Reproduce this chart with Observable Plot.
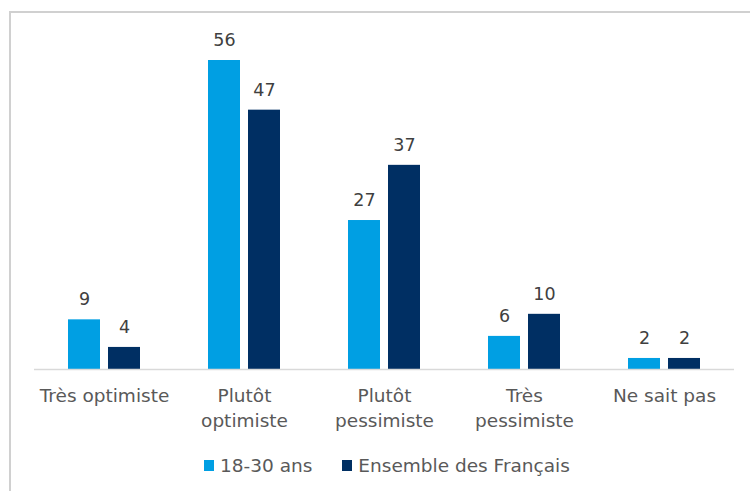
<!DOCTYPE html>
<html>
<head>
<meta charset="utf-8">
<script src="https://cdn.jsdelivr.net/npm/d3@7"></script>
<script src="https://cdn.jsdelivr.net/npm/@observablehq/plot@0.6"></script>
<style>
  html, body { margin: 0; padding: 0; background: #fff; }
  body { width: 750px; height: 491px; position: relative; overflow: hidden; font-family: "DejaVu Sans", Verdana, sans-serif; }
  #frame { position: absolute; left: 9px; top: 11px; width: 800px; height: 600px; border-left: 2px solid #d0d0d0; border-top: 2px solid #d0d0d0; }
  #chart { position: absolute; left: 0; top: 0; }
  #legend { position: absolute; top: 455px; left: 204px; display: flex; align-items: center; font-size: 18.5px; color: #595959; white-space: nowrap; }
  #legend .sw { display: inline-block; width: 10px; height: 11px; margin-right: 6px; }
  #legend .item { display: flex; align-items: center; margin-right: 30px; }
</style>
</head>
<body>
<div id="frame"></div>
<div id="chart"></div>
<div id="legend"></div>
<script>
const categories = ["Très optimiste", "Plutôt optimiste", "Plutôt pessimiste", "Très pessimiste", "Ne sait pas"];
const tickLabels = ["Très optimiste", "Plutôt\noptimiste", "Plutôt\npessimiste", "Très\npessimiste", "Ne sait pas"];
const series = ["18-30 ans", "Ensemble des Français"];
const jeunes = [9, 56, 27, 6, 2];
const ensemble = [4, 47, 37, 10, 2];
const colors = ["#009FE3", "#002F63"];

const data = [];
categories.forEach((c, i) => {
  data.push({cat: c, series: series[0], value: jeunes[i]});
  data.push({cat: c, series: series[1], value: ensemble[i]});
});

const chart = Plot.plot({
  width: 750,
  height: 440,
  marginLeft: 34,
  marginRight: 16,
  marginTop: 60,
  marginBottom: 71,
  style: {fontFamily: "DejaVu Sans, Verdana, sans-serif", fontSize: "18px", background: "transparent"},
  fx: {domain: categories, padding: 0, label: null},
  x: {domain: series, paddingInner: 0.2, paddingOuter: 0.85, axis: null},
  y: {domain: [0, 56], axis: null},
  color: {domain: series, range: colors},
  marks: [
    Plot.barY(data, {fx: "cat", x: "series", y: "value", fill: "series"}),
    Plot.ruleY([0], {stroke: "#d9d9d9", strokeWidth: 1.5}),
    Plot.text(data, {fx: "cat", x: "series", y: "value", text: d => String(d.value), dy: -20, fill: "#404040", fontSize: 17.5}),
    Plot.axisFx({anchor: "bottom", tickSize: 0, tickPadding: 15, lineHeight: 1.33, fontSize: 18.5, fill: "#595959", label: null,
      tickFormat: d => tickLabels[categories.indexOf(d)]})
  ]
});
document.getElementById("chart").appendChild(chart);

const legend = document.getElementById("legend");
series.forEach((s, i) => {
  const item = document.createElement("span");
  item.className = "item";
  const sw = document.createElement("span");
  sw.className = "sw";
  sw.style.background = colors[i];
  item.appendChild(sw);
  item.appendChild(document.createTextNode(s));
  legend.appendChild(item);
});
</script>
</body>
</html>
